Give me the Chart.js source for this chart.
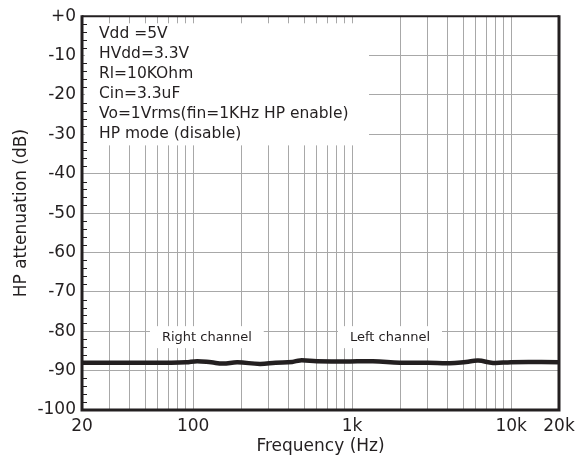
<!DOCTYPE html>
<html>
<head>
<meta charset="utf-8">
<script src="https://cdn.jsdelivr.net/npm/chart.js@4/dist/chart.umd.min.js"></script>
<style>
  html, body { margin: 0; padding: 0; background: #fff; }
  canvas { display: block; }
</style>
</head>
<body>
<canvas id="chart" width="588" height="460"></canvas>
<script>
var freqs = [20, 40, 70, 90, 106, 130, 154, 190, 263, 330, 420, 470, 600, 900, 1350, 2000, 3000, 4100, 5200, 6200, 7700, 10000, 20000];
var atten = [-88.0, -88.0, -88.0, -87.9, -87.6, -87.9, -88.2, -87.9, -88.3, -88.0, -87.8, -87.4, -87.6, -87.7, -87.6, -88.0, -88.0, -88.15, -87.8, -87.45, -88.05, -87.85, -87.85];

var gridFreqs = [20, 30, 40, 50, 60, 70, 80, 90, 100, 200, 300, 400, 500, 600, 700, 800, 900,
    1000, 2000, 3000, 4000, 5000, 6000, 7000, 8000, 9000, 10000, 20000];
var xTickLabels = {20: '20', 100: '100', 1000: '1k', 10000: '10k', 20000: '20k'};

var noteLines = ['Vdd =5V', 'HVdd=3.3V', 'Rl=10KOhm', 'Cin=3.3uF', 'Vo=1Vrms(fin=1KHz HP enable)', 'HP mode (disable)'];
var channelLabels = ['Right channel', 'Left channel'];
var channelFreqs = [122, 1730];
var channelLevels = [-81.5, -81.5];

var ink = '#231f20';
var gridColor = '#a8a8a8';
var font = '"DejaVu Sans", sans-serif';

var overlayPlugin = {
    id: 'overlay',
    beforeDatasetsDraw: function(chart) {
        var ctx = chart.ctx;
        var xs = chart.scales.x, ys = chart.scales.y;
        ctx.save();
        // condition box
        var bx = chart.chartArea.left + 3, by = ys.getPixelForValue(-1.8);
        var bw = xs.getPixelForValue(1277) - bx, bh = ys.getPixelForValue(-32.8) - by;
        ctx.fillStyle = '#fff';
        ctx.fillRect(bx, by, bw, bh);
        ctx.fillStyle = ink;
        ctx.font = '15.5px ' + font;
        ctx.textBaseline = 'middle';
        ctx.textAlign = 'left';
        noteLines.forEach(function(t, i) {
            ctx.fillText(t, bx + 14, by + 11 + i * 20);
        });
        // channel labels
        ctx.font = '13px ' + font;
        ctx.textAlign = 'center';
        channelLabels.forEach(function(t, i) {
            var cx = xs.getPixelForValue(channelFreqs[i]);
            var cy = ys.getPixelForValue(channelLevels[i]);
            var w = ctx.measureText(t).width + 24;
            ctx.fillStyle = '#fff';
            ctx.fillRect(cx - w / 2, cy - 11, w, 22);
            ctx.fillStyle = ink;
            ctx.fillText(t, cx, cy);
        });
        ctx.restore();
    },
    afterDraw: function(chart) {
        var ctx = chart.ctx;
        var a = chart.chartArea;
        var ys = chart.scales.y;
        ctx.save();
        ctx.strokeStyle = ink;
        // minor ticks on left axis
        ctx.lineWidth = 1;
        ctx.beginPath();
        for (var v = -98; v < 0; v += 2) {
            if (v % 10 === 0) continue;
            var y = Math.round(ys.getPixelForValue(v)) + 0.5;
            ctx.moveTo(a.left, y);
            ctx.lineTo(a.left + 5, y);
        }
        ctx.stroke();
        // frame
        ctx.lineWidth = 2;
        ctx.beginPath();
        ctx.moveTo(a.left, a.top);
        ctx.lineTo(a.right, a.top);
        ctx.stroke();
        ctx.lineWidth = 3;
        ctx.beginPath();
        ctx.moveTo(a.left, a.top - 1);
        ctx.lineTo(a.left, a.bottom);
        ctx.lineTo(a.right, a.bottom);
        ctx.lineTo(a.right, a.top - 1);
        ctx.stroke();
        ctx.restore();
    }
};

var data = freqs.map(function(f, i) { return {x: f, y: atten[i]}; });

new Chart(document.getElementById('chart'), {
    type: 'line',
    data: {
        datasets: [{
            data: data,
            borderColor: ink,
            borderWidth: 4.5,
            pointRadius: 0,
            tension: 0.4,
            fill: false,
        }],
    },
    options: {
        responsive: false,
        animation: false,
        devicePixelRatio: 1,
        layout: {padding: {top: 13, right: 29, left: 0, bottom: 0}},
        plugins: {legend: {display: false}, tooltip: {enabled: false}},
        scales: {
            x: {
                type: 'logarithmic',
                min: 20,
                max: 20000,
                afterBuildTicks: function(scale) {
                    scale.ticks = gridFreqs.map(function(v) { return {value: v}; });
                },
                afterFit: function(scale) { scale.height = 50; },
                border: {display: false},
                grid: {color: gridColor, lineWidth: 1, drawTicks: false},
                ticks: {
                    autoSkip: false,
                    maxRotation: 0,
                    padding: 6,
                    color: ink,
                    font: {family: font, size: 17},
                    callback: function(v) { return xTickLabels[v] || ''; },
                },
                title: {
                    display: true,
                    text: 'Frequency (Hz)',
                    color: ink,
                    font: {family: font, size: 17},
                    padding: {top: 0, bottom: 3},
                },
            },
            y: {
                min: -100,
                max: 0,
                afterFit: function(scale) { scale.width = 82; },
                border: {display: false},
                grid: {color: gridColor, lineWidth: 1, drawTicks: false},
                ticks: {
                    stepSize: 10,
                    padding: 6,
                    color: ink,
                    font: {family: font, size: 17},
                    callback: function(v) { return v === 0 ? '+0' : v; },
                },
                title: {
                    display: true,
                    text: 'HP attenuation (dB)',
                    color: ink,
                    font: {family: font, size: 17},
                    padding: {top: 11, bottom: 0},
                },
            },
        },
    },
    plugins: [overlayPlugin],
});
</script>
</body>
</html>
